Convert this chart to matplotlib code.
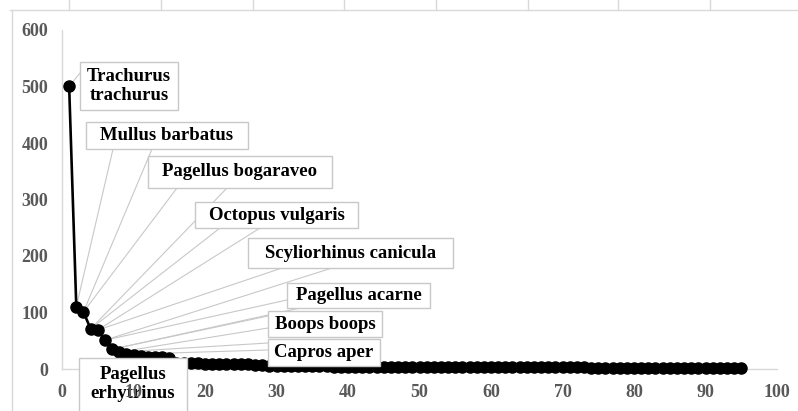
import matplotlib
matplotlib.use("Agg")
import matplotlib.pyplot as plt
from matplotlib.patches import Rectangle
from matplotlib.lines import Line2D

# ---------------- data ----------------
rank = list(range(1, 96))
abundance = [
    500, 110, 101, 71, 69, 51, 35, 30, 26, 24,
    23, 22, 22, 21, 20, 11, 11, 10, 10, 9,
    9, 9, 8, 8, 8, 8, 7, 7, 5, 5,
    5, 5, 5, 5, 5, 5, 5, 4, 4, 4,
    4, 4, 4, 4, 4, 4, 4, 4, 4, 4,
    4, 4, 4, 4, 4, 4, 4, 4, 4, 4,
    4, 3, 3, 3, 3, 3, 3, 3, 3, 3,
    3, 3, 3, 1, 1, 1, 1, 1, 1, 1,
    1, 1, 1, 1, 1, 1, 1, 1, 1, 1,
    1, 1, 1, 1, 1,
]
x_ticks = [0, 10, 20, 30, 40, 50, 60, 70, 80, 90, 100]
y_ticks = [0, 100, 200, 300, 400, 500, 600]

species = ["Trachurus\ntrachurus", "Mullus barbatus", "Pagellus bogaraveo",
           "Octopus vulgaris", "Scyliorhinus canicula", "Pagellus acarne",
           "Boops boops", "Capros aper", "Pagellus\nerhytrinus"]
species_points = [[1], [2, 3], [3, 4], [4, 5], [5, 6], [6, 7], [7, 8], [8, 9], []]

# ---------------- layout (pixels, top-left origin) ----------------
W, H = 798, 411
boxes = [  # x0, x1, y0, y1
    (80, 178, 62, 110),
    (86, 248, 122, 149),
    (148, 332, 156, 188),
    (195, 358, 202, 228),
    (248, 453, 238, 268),
    (287, 430, 283, 308),
    (268, 382, 311, 337),
    (268, 380, 339, 366),
    (79, 187, 358, 425),
]
text_centers = [None] * 8 + [(133, 384)]
anchors = [
    [(80, 73)],
    [(113, 149), (152, 149)],
    [(177, 188), (227, 188)],
    [(220, 228), (260, 228)],
    [(282, 268), (332, 268)],
    [(287, 300), (300, 308)],
    [(268, 316), (268, 328)],
    [(268, 343), (268, 350)],
    [],
]

def fx(px):
    return px / W

def fy(py):
    return 1 - py / H

serif = "Liberation Serif"
grey_txt = "#595959"
axis_grey = "#d9d9d9"

fig = plt.figure(figsize=(W / 100, H / 100), dpi=100)
fig.patch.set_facecolor("white")

ax = fig.add_axes([fx(62), fy(369), fx(777) - fx(62), fy(30) - fy(369)])
ax.set_xlim(0, 100)
ax.set_ylim(0, 600)
for s in ["top", "right"]:
    ax.spines[s].set_visible(False)
for s in ["left", "bottom"]:
    ax.spines[s].set_color(axis_grey)
    ax.spines[s].set_linewidth(1.0)
ax.set_xticks(x_ticks)
ax.set_yticks(y_ticks)
ax.tick_params(length=0, pad=11, labelsize=13, labelcolor=grey_txt)
ax.tick_params(axis="y", pad=10)
for lab in ax.get_xticklabels() + ax.get_yticklabels():
    lab.set_fontfamily(serif)
    lab.set_fontweight("bold")
ax.xaxis.set_zorder(10)

ax.plot(rank, abundance, color="black", lw=1.9, marker="o", markersize=8,
        markerfacecolor="black", markeredgecolor="black", zorder=3,
        clip_on=False)

# leader lines
for pts, anc in zip(species_points, anchors):
    for p, a in zip(pts, anc):
        ax.annotate("", xy=(rank[p - 1], abundance[p - 1]), xycoords="data",
                    xytext=(fx(a[0]), fy(a[1])), textcoords="figure fraction",
                    arrowprops=dict(arrowstyle="-", color="#c8c8c8", lw=0.8,
                                    shrinkA=0, shrinkB=0),
                    zorder=2, annotation_clip=False)

# label boxes
for i, (name, b) in enumerate(zip(species, boxes)):
    x0, x1, y0, y1 = b
    rect = Rectangle((fx(x0), fy(y1)), fx(x1) - fx(x0), fy(y0) - fy(y1),
                     transform=fig.transFigure, facecolor="white",
                     edgecolor="#c8c8c8", lw=1.0, zorder=5, clip_on=False)
    ax.add_artist(rect)
    if text_centers[i] is not None:
        cx, cy = text_centers[i]
    else:
        cx, cy = (x0 + x1) / 2, (y0 + y1) / 2
    ax.text(fx(cx), fy(cy), name, transform=fig.transFigure, ha="center",
            va="center", fontsize=13.5, fontweight="bold", family=serif,
            color="black", zorder=6, linespacing=1.1)

# outer frame remnants
frame_col = "#d9d9d9"
fig.add_artist(Line2D([fx(10), 1], [fy(10), fy(10)], transform=fig.transFigure,
                      color=frame_col, lw=1.0))
fig.add_artist(Line2D([fx(12), fx(12)], [fy(10), 0], transform=fig.transFigure,
                      color=frame_col, lw=1.0))
for tx in [69, 161, 253, 344, 436, 528, 618, 710]:
    fig.add_artist(Line2D([fx(tx), fx(tx)], [fy(10), 1], transform=fig.transFigure,
                          color=frame_col, lw=1.0))

fig.savefig("out.png", dpi=100, facecolor="white")
